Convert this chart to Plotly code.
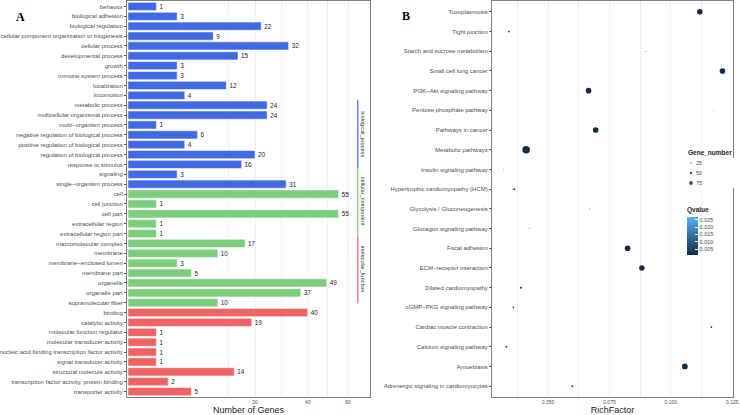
import numpy as np
import plotly.graph_objects as go

# ---------------- data: panel A (GO classification) ----------------
go_terms = [
    "behavior", "biological adhesion", "biological regulation",
    "cellular component organization or biogenesis", "cellular process",
    "developmental process", "growth", "immune system process", "localization",
    "locomotion", "metabolic process", "multicellular organismal process",
    "multi\u2212organism process", "negative regulation of biological process",
    "positive regulation of biological process", "regulation of biological process",
    "response to stimulus", "signaling", "single\u2212organism process",
    "cell", "cell junction", "cell part", "extracellular region",
    "extracellular region part", "macromolecular complex", "membrane",
    "membrane\u2212enclosed lumen", "membrane part", "organelle", "organelle part",
    "supramolecular fiber",
    "binding", "catalytic activity", "molecular function regulator",
    "molecular transducer activity", "nucleic acid binding transcription factor activity",
    "signal transducer activity", "structural molecule activity",
    "transcription factor activity, protein binding", "transporter activity",
]
go_counts = [1, 3, 22, 9, 32, 15, 3, 3, 12, 4, 24, 24, 1, 6, 4, 20, 16, 3, 31,
             55, 1, 55, 1, 1, 17, 10, 3, 5, 49, 37, 10,
             40, 19, 1, 1, 1, 1, 14, 2, 5]
go_groups = (["biological_process"] * 19 + ["cellular_component"] * 12
             + ["molecular_function"] * 9)
group_names = ["biological_process", "cellular_component", "molecular_function"]
group_colors = ["#4169E1", "#7CCD7C", "#EE6363"]
gene_ticks = [20, 40, 60]

# ---------------- data: panel B (KEGG enrichment) ----------------
kegg_pathways = [
    "Toxoplasmosis", "Tight junction", "Starch and sucrose metabolism",
    "Small cell lung cancer", "PI3K\u2212Akt signaling pathway",
    "Pentose phosphate pathway", "Pathways in cancer", "Metabolic pathways",
    "Insulin signaling pathway", "Hypertrophic cardiomyopathy (HCM)",
    "Glycolysis / Gluconeogenesis", "Glucagon signaling pathway", "Focal adhesion",
    "ECM\u2212receptor interaction", "Dilated cardiomyopathy",
    "cGMP\u2212PKG signaling pathway", "Cardiac muscle contraction",
    "Calcium signaling pathway", "Amoebiasis", "Adrenergic signaling in cardiomyocytes",
]
rich_factor = [0.1118, 0.0340, 0.0898, 0.1210, 0.0665, 0.1176, 0.0694, 0.0411,
               0.0318, 0.0362, 0.0670, 0.0424, 0.0824, 0.0882, 0.0390, 0.0359,
               0.1165, 0.0330, 0.1057, 0.0599]
gene_number = [112, 36, 20, 112, 112, 18, 112, 150,
               20, 40, 20, 20, 114, 110, 40, 36,
               36, 36, 114, 38]
qvalue = [0.0009, 0.0020, 0.0080, 0.0009, 0.0009, 0.0080, 0.0009, 0.0010,
          0.0260, 0.0015, 0.0150, 0.0220, 0.0009, 0.0009, 0.0015, 0.0020,
          0.0020, 0.0020, 0.0009, 0.0015]
rich_ticks = [0.050, 0.075, 0.100, 0.125]
size_legend_values = [25, 50, 75]
qvalue_ticks = [0.005, 0.010, 0.015, 0.020, 0.025]

# ---------------- layout helpers ----------------
W, H = 740, 415
MT, MB = 1, 18          # plot area runs from y=1 to y=397 px
FONT = "Liberation Sans, Arial, sans-serif"
LBL = "#4d4d4d"


def px_x(p):
    return p / W


def px_y(p):
    return (H - MB - p) / (H - MT - MB)


SIZEREF = 20.0  # marker diameter (px) = gene_number / SIZEREF

fig = go.Figure()

# ---- panel A bars (sqrt-scaled x axis) ----
for g, col in zip(group_names, group_colors):
    terms = [t for t, gg in zip(go_terms, go_groups) if gg == g]
    vals = [v for v, gg in zip(go_counts, go_groups) if gg == g]
    fig.add_trace(go.Bar(
        y=terms, x=[float(np.sqrt(v)) for v in vals], orientation="h",
        marker=dict(color=col, line=dict(color="rgba(255,255,255,0.7)", width=0.8)),
        text=[str(v) for v in vals], textposition="outside",
        textfont=dict(size=6.3, color="#1a1a1a", family=FONT),
        constraintext="none", cliponaxis=False,
        hoverinfo="skip", showlegend=False, xaxis="x", yaxis="y",
    ))

# ---- panel B dot plot ----
fig.add_trace(go.Scatter(
    x=rich_factor, y=kegg_pathways, mode="markers",
    marker=dict(size=gene_number, sizemode="diameter", sizeref=SIZEREF,
                color=qvalue, cmin=0.0009, cmax=0.027, opacity=1,
                colorscale=[[0, "#132B43"], [1, "#56B1F7"]],
                line=dict(width=0),
                showscale=True,
                colorbar=dict(
                    x=px_x(687), xanchor="left", xpad=0,
                    y=px_y(229.5), yanchor="middle", ypad=0,
                    len=51, lenmode="pixels", thickness=11, thicknessmode="pixels",
                    outlinewidth=0,
                    title=dict(text="<b>Qvalue</b>", side="top",
                               font=dict(size=6.5, color="#1a1a1a", family=FONT)),
                    tickmode="array", tickvals=qvalue_ticks,
                    ticktext=[f"{v:.3f}" for v in qvalue_ticks],
                    ticks="inside", ticklen=3, tickcolor="white", tickwidth=0.6,
                    tickfont=dict(size=5.5, color=LBL, family=FONT),
                )),
    hoverinfo="skip", showlegend=False, xaxis="x2", yaxis="y2",
))

# ---- size legend keys on a small hidden axis ----
fig.add_trace(go.Scatter(
    x=[0] * len(size_legend_values), y=list(range(len(size_legend_values))),
    mode="markers",
    marker=dict(size=size_legend_values, sizemode="diameter", sizeref=SIZEREF,
                color="black", line=dict(width=0)),
    hoverinfo="skip", showlegend=False, xaxis="x3", yaxis="y3",
))

annotations = []
for i, v in enumerate(size_legend_values):
    annotations.append(dict(x=0, y=i, xref="x3", yref="y3", text=str(v),
                            showarrow=False, xanchor="left", xshift=3,
                            font=dict(size=5.5, color=LBL, family=FONT)))
annotations.append(dict(x=px_x(686), y=px_y(152.7), xref="paper", yref="paper",
                        text="<b>Gene_number</b>", showarrow=False,
                        xanchor="left", yanchor="middle",
                        font=dict(size=6.5, color="#1a1a1a", family=FONT)))

# ---- group strip labels in panel A ----
strip_start, strip_len = 9.5, 6.85
for i, (g, col) in enumerate(zip(group_names, group_colors)):
    y0 = strip_start + i * strip_len
    y1 = y0 + strip_len
    fig.add_shape(type="line", xref="x", yref="y", x0=8.09, x1=8.09,
                  y0=y0, y1=y1, line=dict(color=col, width=1.2))
    annotations.append(dict(x=8.27, y=(y0 + y1) / 2, xref="x", yref="y",
                            text=g, textangle=90, showarrow=False,
                            font=dict(size=5.6, color="#333333", family=FONT)))

# ---- panel letters ----
SERIF = "Liberation Serif, Times New Roman, serif"
annotations.append(dict(x=px_x(14), y=px_y(7.5), xref="paper", yref="paper", text="<b>A</b>",
                        showarrow=False, font=dict(size=12, color="black", family=SERIF)))
annotations.append(dict(x=px_x(405.5), y=px_y(7), xref="paper", yref="paper", text="<b>B</b>",
                        showarrow=False, font=dict(size=12, color="black", family=SERIF)))

# axis ticks: major labelled ticks plus unlabelled minor (mid-break) grid positions
sq_major = [float(np.sqrt(t)) for t in gene_ticks]
step = sq_major[1] - sq_major[0]
sq_ext = [sq_major[0] - step] + sq_major
sq_minor = [(a + b) / 2 for a, b in zip(sq_ext[:-1], sq_ext[1:])]
a_pairs = sorted([(v, str(t)) for v, t in zip(sq_major, gene_ticks)]
                 + [(v, "") for v in sq_minor])
a_vals = [p[0] for p in a_pairs]
a_text = [p[1] for p in a_pairs]

rstep = rich_ticks[1] - rich_ticks[0]
rich_minor = [t - rstep / 2 for t in rich_ticks]
b_pairs = sorted([(v, f"{v:.3f}") for v in rich_ticks] + [(v, "") for v in rich_minor])
b_vals = [p[0] for p in b_pairs]
b_text = [p[1] for p in b_pairs]

axis_common = dict(showline=True, mirror=True, linecolor="#808080", linewidth=1,
                   zeroline=False)

fig.update_layout(
    width=W, height=H, margin=dict(l=0, r=0, t=MT, b=MB),
    paper_bgcolor="white", plot_bgcolor="white",
    barmode="overlay", bargap=0.17,
    font=dict(family=FONT),
    xaxis=dict(domain=[px_x(127), px_x(370)], anchor="y",
               range=[-0.035, 8.52], tickmode="array", tickvals=a_vals,
               ticktext=a_text,
               tickfont=dict(size=5, color=LBL, family=FONT),
               showgrid=True, gridcolor="#efefef", gridwidth=0.7,
               title=dict(text="Number of Genes", standoff=2,
                          font=dict(size=9, color="#1a1a1a", family=FONT)),
               automargin=False, **axis_common),
    yaxis=dict(domain=[0, 1], anchor="x",
               categoryorder="array", categoryarray=go_terms,
               range=[len(go_terms) - 0.45, -0.55],
               tickfont=dict(size=6, color=LBL, family=FONT),
               ticks="outside", ticklen=2, tickwidth=0.6, tickcolor="#555555",
               showgrid=False, automargin=False, **axis_common),
    xaxis2=dict(domain=[px_x(492), px_x(733)], anchor="y2",
                range=[0.0272, 0.1253], tickmode="array", tickvals=b_vals,
                ticktext=b_text,
                tickfont=dict(size=5, color=LBL, family=FONT),
                showgrid=True, gridcolor="#efefef", gridwidth=0.7,
                title=dict(text="RichFactor", standoff=2,
                           font=dict(size=9, color="#1a1a1a", family=FONT)),
                automargin=False, **axis_common),
    yaxis2=dict(domain=[0, 1], anchor="x2",
                categoryorder="array", categoryarray=kegg_pathways,
                range=[len(kegg_pathways) - 0.45, -0.55],
                tickfont=dict(size=6, color=LBL, family=FONT),
                ticks="outside", ticklen=2, tickwidth=0.6, tickcolor="#555555",
                showgrid=False, automargin=False, **axis_common),
    xaxis3=dict(domain=[px_x(684), px_x(734)], anchor="y3", range=[-7, 43],
                visible=False, fixedrange=True),
    yaxis3=dict(domain=[px_y(188), px_y(158)], anchor="x3", range=[2.5, -0.5],
                visible=False, fixedrange=True),
    annotations=annotations,
)

fig.write_html("out.html", config={"displayModeBar": False},
               post_script="document.body.style.margin='0';document.body.style.overflow='hidden';")
